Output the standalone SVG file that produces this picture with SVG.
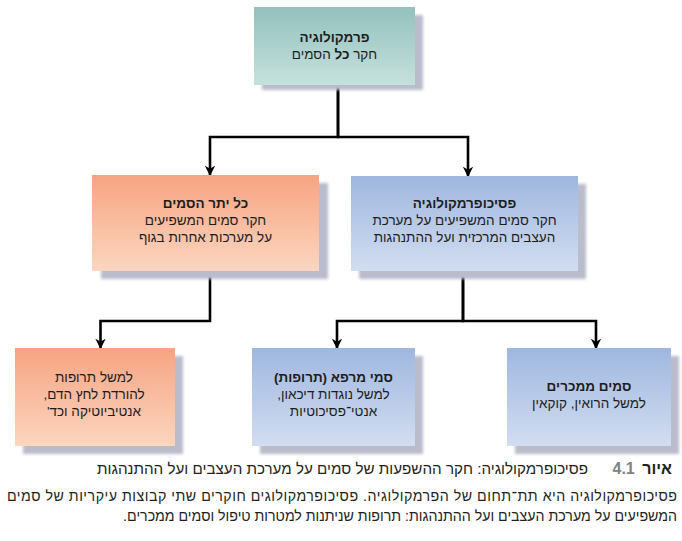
<svg xmlns="http://www.w3.org/2000/svg" width="682" height="541" viewBox="0 0 682 541">
<defs>
<linearGradient id="gTeal" x1="0" y1="0" x2="0" y2="1"><stop offset="0" stop-color="#93c1bd"/><stop offset="1" stop-color="#c6e1dd"/></linearGradient>
<linearGradient id="gOrange" x1="0" y1="0" x2="0" y2="1"><stop offset="0" stop-color="#f6a482"/><stop offset="1" stop-color="#fcd6bf"/></linearGradient>
<linearGradient id="gBlue" x1="0" y1="0" x2="0" y2="1"><stop offset="0" stop-color="#9fb7df"/><stop offset="1" stop-color="#d2ddf1"/></linearGradient>
<filter id="blur" x="-10%" y="-10%" width="120%" height="120%"><feGaussianBlur stdDeviation="1.6"/></filter>
<marker id="arr" viewBox="0 0 10 10" refX="9" refY="5" markerWidth="4" markerHeight="4" markerUnits="strokeWidth" orient="auto"><path d="M0,0 L10,5 L0,10 L3,5 z" fill="#000"/></marker>
</defs>
<style>
.sh{fill:#b9bccb;filter:url(#blur)}
.t{font-family:"Liberation Sans","DejaVu Sans",sans-serif;font-size:13.5px;fill:#1d1d1d;text-anchor:middle;direction:rtl}
.b{font-weight:bold}
.c{stroke:#000;stroke-width:2.6;fill:none;marker-end:url(#arr)}
.cap{font-family:"Liberation Sans","DejaVu Sans",sans-serif;font-size:14.2px;fill:#231f20;direction:rtl}
</style>
<g id="connectors">
<path class="c" d="M338,85 V137 H210 V175"/>
<path class="c" d="M338,85 V137 H468 V176"/>
<path class="c" d="M210,271 V321 H100.5 V348"/>
<path class="c" d="M463,271 V321 H337 V348"/>
<path class="c" d="M463,271 V321 H596 V348"/>
</g>
<g id="pharmacology">
<rect class="sh" x="262" y="15" width="161" height="75"/>
<rect x="254" y="7" width="161" height="78" fill="url(#gTeal)"/>
<text class="t b" x="334.5" y="42">פרמקולוגיה</text>
<text class="t" x="334.5" y="59">חקר <tspan class="b">כל</tspan> הסמים</text>
</g>
<g id="other-drugs">
<rect class="sh" x="101" y="183" width="227" height="96"/>
<rect x="92" y="175" width="227" height="96" fill="url(#gOrange)"/>
<text class="t b" x="205.5" y="208">כל יתר הסמים</text>
<text class="t" x="205.5" y="225">חקר סמים המשפיעים</text>
<text class="t" x="205.5" y="242">על מערכות אחרות בגוף</text>
</g>
<g id="psychopharmacology">
<rect class="sh" x="359" y="184" width="227" height="95"/>
<rect x="351" y="176" width="227" height="95" fill="url(#gBlue)"/>
<text class="t b" x="464.5" y="208">פסיכופרמקולוגיה</text>
<text class="t" x="464.5" y="225">חקר סמים המשפיעים על מערכת</text>
<text class="t" x="464.5" y="242">העצבים המרכזית ועל ההתנהגות</text>
</g>
<g id="medications">
<rect class="sh" x="23" y="356" width="160" height="98"/>
<rect x="15" y="348" width="160" height="98" fill="url(#gOrange)"/>
<text class="t" x="94" y="382">למשל תרופות</text>
<text class="t" x="94" y="399">להורדת לחץ הדם,</text>
<text class="t" x="94" y="416">אנטיביוטיקה וכד'</text>
</g>
<g id="therapeutic-drugs">
<rect class="sh" x="260" y="356" width="163" height="98"/>
<rect x="252" y="348" width="163" height="98" fill="url(#gBlue)"/>
<text class="t b" x="333.5" y="382">סמי מרפא (תרופות)</text>
<text class="t" x="333.5" y="399">למשל נוגדות דיכאון,</text>
<text class="t" x="333.5" y="416">אנטי־פסיכוטיות</text>
</g>
<g id="addictive-drugs">
<rect class="sh" x="515" y="356" width="164" height="98"/>
<rect x="507" y="348" width="164" height="98" fill="url(#gBlue)"/>
<text class="t b" x="589" y="391">סמים ממכרים</text>
<text class="t" x="589" y="408">למשל הרואין, קוקאין</text>
</g>
<g id="caption">
<text class="cap b" x="672" y="474" text-anchor="start" style="font-size:16px" word-spacing="3">איור <tspan fill="#808285">4.1</tspan></text>
<text class="cap" x="588" y="474" text-anchor="start" style="font-size:15.2px">פסיכופרמקולוגיה: חקר ההשפעות של סמים על מערכת העצבים ועל ההתנהגות</text>
<text class="cap" x="342" y="501" text-anchor="middle" textLength="670" lengthAdjust="spacing">פסיכופרמקולוגיה היא תת־תחום של הפרמקולוגיה. פסיכופרמקולוגים חוקרים שתי קבוצות עיקריות של סמים</text>
<text class="cap" x="677" y="521" text-anchor="start">המשפיעים על מערכת העצבים ועל ההתנהגות: תרופות שניתנות למטרות טיפול וסמים ממכרים.</text>
</g>
</svg>
